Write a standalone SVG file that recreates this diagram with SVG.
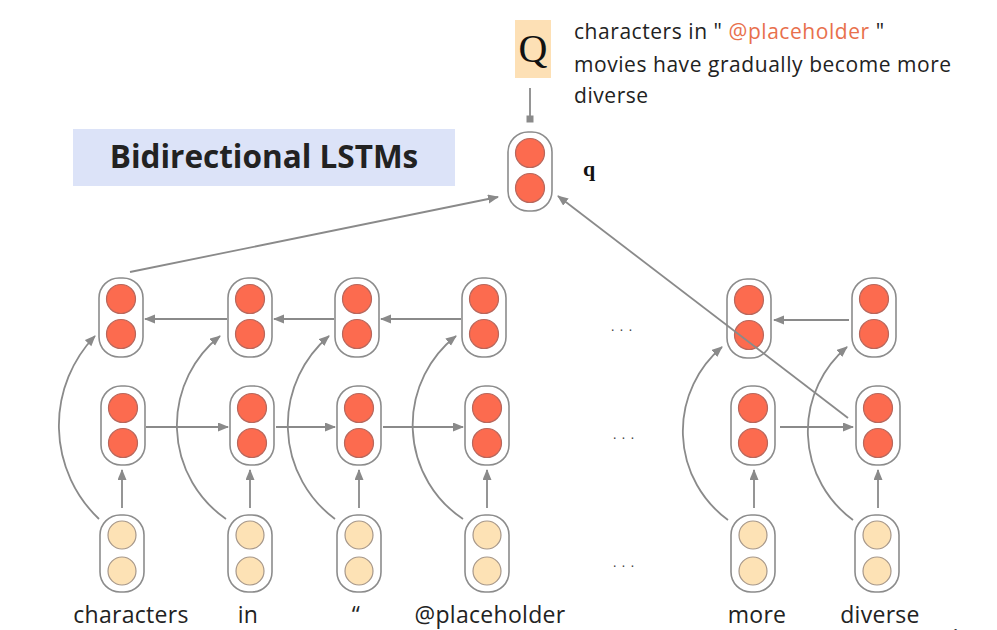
<svg xmlns="http://www.w3.org/2000/svg" width="997" height="630" viewBox="0 0 997 630">
<defs>
<style>
.box{fill:#fff;stroke:#8c8c8c;stroke-width:1.6}
.h{fill:#fc6b4f;stroke:#b8675c;stroke-width:1.2}
.x{fill:#fde2b5;stroke:#a6978a;stroke-width:1.2}
.c{fill:none;stroke:#8a8a8a;stroke-width:1.8}
.t{font-family:"Open Sans",Lato,"Liberation Sans",sans-serif;fill:#222}
.dots{font-family:"Liberation Sans",sans-serif;font-size:14px;fill:#444;letter-spacing:5px}
</style>
<marker id="ah" markerUnits="userSpaceOnUse" markerWidth="12" markerHeight="10" refX="10" refY="4.5" orient="auto">
<path d="M0,0 L11,4.5 L0,9 z" fill="#8a8a8a"/>
</marker>
<marker id="sq" markerUnits="userSpaceOnUse" markerWidth="8" markerHeight="8" refX="4" refY="4" orient="auto">
<rect x="0.5" y="0.5" width="7" height="7" fill="#8a8a8a"/>
</marker>
</defs>
<rect width="997" height="630" fill="#fff"/>

<g id="title">
<rect x="73" y="129" width="382" height="57" fill="#dce3f8"/>
<text class="t" x="264" y="168" font-size="31.5" font-weight="bold" text-anchor="middle" fill="#111">Bidirectional LSTMs</text>
</g>

<g id="Q">
<rect x="515" y="20" width="36" height="58" fill="#fde0b5"/>
<text x="533" y="62" font-family="'Liberation Serif',serif" font-size="40" text-anchor="middle" fill="#111">Q</text>
</g>

<g id="query-text" class="t" font-size="21" letter-spacing="0.55">
<text x="574" y="39">characters in " <tspan fill="#e8704c">@placeholder</tspan> "</text>
<text x="574" y="72">movies have gradually become more</text>
<text x="574" y="103">diverse</text>
</g>

<g id="q">
<rect class="box" x="508" y="132" width="44" height="79" rx="20"/>
<circle class="h" cx="530" cy="153" r="14.5"/>
<circle class="h" cx="530" cy="188" r="14.5"/>
<text x="583" y="176" font-family="'Liberation Serif',serif" font-size="22" font-weight="bold" fill="#111">q</text>
</g>

<!-- top row: backward -->
<g id="b1"><rect class="box" x="99" y="278" width="44" height="79" rx="20"/><circle class="h" cx="121" cy="299" r="14.5"/><circle class="h" cx="121" cy="334" r="14.5"/></g>
<g id="b2"><rect class="box" x="228" y="278" width="44" height="79" rx="20"/><circle class="h" cx="250" cy="299" r="14.5"/><circle class="h" cx="250" cy="334" r="14.5"/></g>
<g id="b3"><rect class="box" x="335" y="278" width="44" height="79" rx="20"/><circle class="h" cx="357" cy="299" r="14.5"/><circle class="h" cx="357" cy="334" r="14.5"/></g>
<g id="b4"><rect class="box" x="462" y="278" width="44" height="79" rx="20"/><circle class="h" cx="484" cy="299" r="14.5"/><circle class="h" cx="484" cy="334" r="14.5"/></g>
<g id="b5"><rect class="box" x="727" y="279" width="44" height="79" rx="20"/><circle class="h" cx="749" cy="300" r="14.5"/><circle class="h" cx="749" cy="335" r="14.5"/></g>
<g id="b6"><rect class="box" x="852" y="278" width="44" height="79" rx="20"/><circle class="h" cx="874" cy="299" r="14.5"/><circle class="h" cx="874" cy="334" r="14.5"/></g>

<!-- middle row: forward -->
<g id="f1"><rect class="box" x="101" y="386" width="44" height="79" rx="20"/><circle class="h" cx="123" cy="408" r="14.5"/><circle class="h" cx="123" cy="443" r="14.5"/></g>
<g id="f2"><rect class="box" x="230" y="386" width="44" height="79" rx="20"/><circle class="h" cx="252" cy="408" r="14.5"/><circle class="h" cx="252" cy="443" r="14.5"/></g>
<g id="f3"><rect class="box" x="337" y="386" width="44" height="79" rx="20"/><circle class="h" cx="359" cy="408" r="14.5"/><circle class="h" cx="359" cy="443" r="14.5"/></g>
<g id="f4"><rect class="box" x="465" y="386" width="44" height="79" rx="20"/><circle class="h" cx="487" cy="408" r="14.5"/><circle class="h" cx="487" cy="443" r="14.5"/></g>
<g id="f5"><rect class="box" x="731" y="386" width="44" height="79" rx="20"/><circle class="h" cx="753" cy="408" r="14.5"/><circle class="h" cx="753" cy="443" r="14.5"/></g>
<g id="f6"><rect class="box" x="856" y="386" width="44" height="79" rx="20"/><circle class="h" cx="878" cy="408" r="14.5"/><circle class="h" cx="878" cy="443" r="14.5"/></g>

<!-- bottom row: inputs -->
<g id="x1"><rect class="box" x="100" y="515" width="44" height="77" rx="20"/><circle class="x" cx="122" cy="535" r="14"/><circle class="x" cx="122" cy="571" r="14"/></g>
<g id="x2"><rect class="box" x="228" y="515" width="44" height="77" rx="20"/><circle class="x" cx="250" cy="535" r="14"/><circle class="x" cx="250" cy="571" r="14"/></g>
<g id="x3"><rect class="box" x="337" y="515" width="44" height="77" rx="20"/><circle class="x" cx="359" cy="535" r="14"/><circle class="x" cx="359" cy="571" r="14"/></g>
<g id="x4"><rect class="box" x="465" y="515" width="44" height="77" rx="20"/><circle class="x" cx="487" cy="535" r="14"/><circle class="x" cx="487" cy="571" r="14"/></g>
<g id="x5"><rect class="box" x="731" y="515" width="44" height="77" rx="20"/><circle class="x" cx="753" cy="535" r="14"/><circle class="x" cx="753" cy="571" r="14"/></g>
<g id="x6"><rect class="box" x="855" y="515" width="44" height="77" rx="20"/><circle class="x" cx="877" cy="535" r="14"/><circle class="x" cx="877" cy="571" r="14"/></g>

<g id="labels" class="t" font-size="23" text-anchor="middle" letter-spacing="0.3">
<text x="131" y="623">characters</text>
<text x="248" y="623">in</text>
<text x="356" y="623">“</text>
<text x="490" y="623">@placeholder</text>
<text x="757" y="623">more</text>
<text x="880" y="623">diverse</text>
</g>

<g id="ellipses" class="dots" text-anchor="middle">
<text x="624" y="331">...</text>
<text x="626" y="439">...</text>
<text x="626" y="567">...</text>
</g>

<text x="948" y="643" font-family="Lato,sans-serif" font-size="20" fill="#333">6</text>

<g id="connectors" class="c">
<line x1="530" y1="88" x2="530" y2="119" marker-end="url(#sq)"/>
<!-- backward row -->
<line x1="227" y1="319" x2="145" y2="319" marker-end="url(#ah)"/>
<line x1="334" y1="319" x2="274" y2="319" marker-end="url(#ah)"/>
<line x1="461" y1="319" x2="381" y2="319" marker-end="url(#ah)"/>
<line x1="849" y1="320" x2="774" y2="320" marker-end="url(#ah)"/>
<!-- forward row -->
<line x1="146" y1="427" x2="228" y2="427" marker-end="url(#ah)"/>
<line x1="276" y1="427" x2="335" y2="427" marker-end="url(#ah)"/>
<line x1="383" y1="427" x2="463" y2="427" marker-end="url(#ah)"/>
<line x1="780" y1="427" x2="853" y2="427" marker-end="url(#ah)"/>
<!-- vertical -->
<line x1="122" y1="508" x2="122" y2="470" marker-end="url(#ah)"/>
<line x1="250" y1="508" x2="250" y2="470" marker-end="url(#ah)"/>
<line x1="359" y1="508" x2="359" y2="470" marker-end="url(#ah)"/>
<line x1="487" y1="508" x2="487" y2="470" marker-end="url(#ah)"/>
<line x1="754" y1="508" x2="754" y2="470" marker-end="url(#ah)"/>
<line x1="878" y1="508" x2="878" y2="470" marker-end="url(#ah)"/>
<!-- curves input -> backward -->
<path d="M99,519 A129,129 0 0,1 95,336" marker-end="url(#ah)"/>
<path d="M226,519 A114,114 0 0,1 220,336" marker-end="url(#ah)"/>
<path d="M335,519 A117,117 0 0,1 329,336" marker-end="url(#ah)"/>
<path d="M463,519 A113,113 0 0,1 456,336" marker-end="url(#ah)"/>
<path d="M728,520 A110,110 0 0,1 722,347" marker-end="url(#ah)"/>
<path d="M853,520 A110,110 0 0,1 847,347" marker-end="url(#ah)"/>
<!-- to q -->
<line x1="130" y1="272" x2="498" y2="197" marker-end="url(#ah)"/>
<line x1="848" y1="418" x2="558" y2="196" marker-end="url(#ah)"/>
</g>
</svg>
